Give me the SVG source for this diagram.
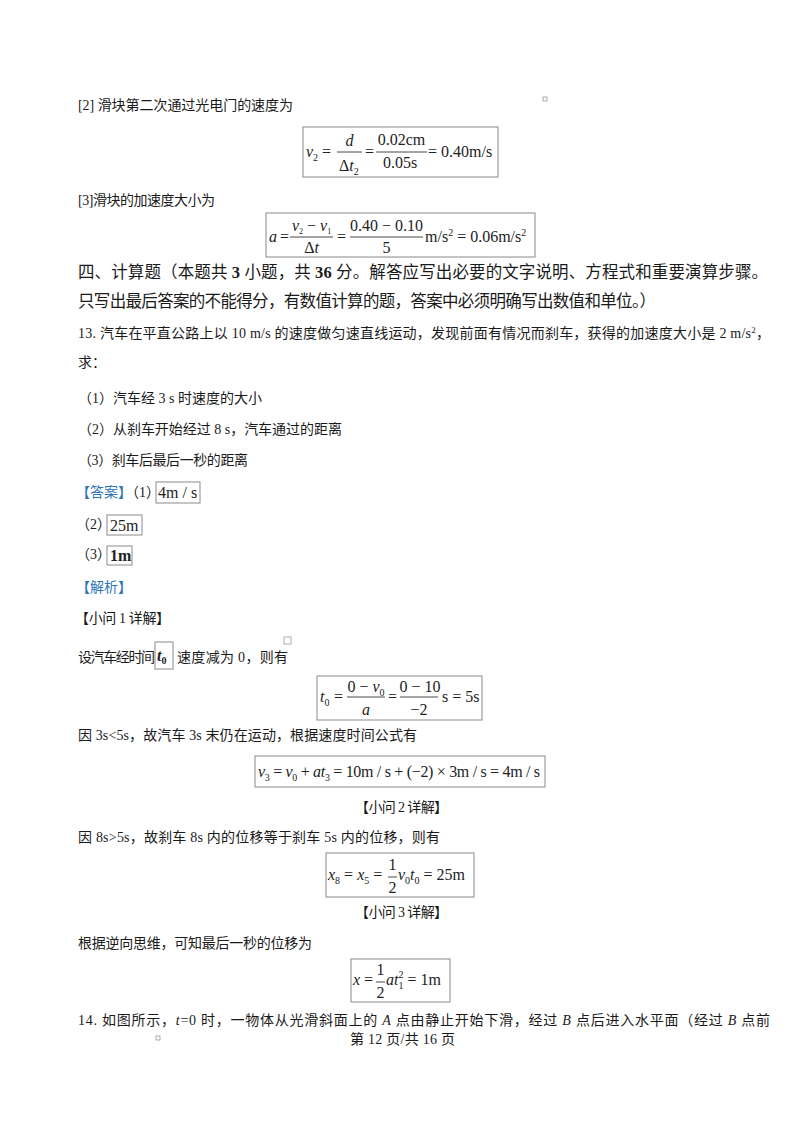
<svg xmlns="http://www.w3.org/2000/svg" width="800" height="1132" viewBox="0 0 800 1132">
<style>
.t{font-family:"Liberation Serif","Noto Sans CJK SC",serif;font-size:14px;fill:#1a1a1a}
.h{font-size:16.5px}
.m{font-family:"Liberation Serif",serif;font-size:16px;fill:#222}
.i{font-style:italic}
.b{font-weight:bold}
.s{font-size:10px}
.blue{fill:#2e74b5}
.box{fill:none;stroke:#8a8a8a;stroke-width:1}
.sq{fill:none;stroke:#9a9a9a;stroke-width:0.8}
.fl{stroke:#333;stroke-width:0.9}
</style>
<rect width="800" height="1132" fill="#fff"/>

<g id="part2">
<text class="t" x="78" y="110" textLength="215" lengthAdjust="spacing">[2]  滑块第二次通过光电门的速度为</text>
<rect class="sq" x="543" y="97" width="4" height="4"/>
<rect class="box" x="303" y="127" width="195" height="50"/>
<text class="m" x="306" y="157"><tspan class="i">v</tspan><tspan class="s" dy="4">2</tspan></text>
<text class="m" x="322" y="157">=</text>
<line class="fl" x1="337" y1="152" x2="362" y2="152"/>
<text class="m i" x="349.5" y="146" text-anchor="middle">d</text>
<text class="m" x="339" y="171">Δ<tspan class="i">t</tspan><tspan class="s" dy="4">2</tspan></text>
<text class="m" x="365" y="157">=</text>
<line class="fl" x1="376" y1="152" x2="427" y2="152"/>
<text class="m" x="401.5" y="145" text-anchor="middle">0.02cm</text>
<text class="m" x="400" y="168" text-anchor="middle">0.05s</text>
<text class="m" x="428" y="157">= 0.40m/s</text>
</g>

<g id="part3">
<text class="t" x="78" y="205" textLength="137" lengthAdjust="spacing">[3]滑块的加速度大小为</text>
<rect class="box" x="266" y="213" width="269" height="44"/>
<text class="m i" x="269" y="242">a</text>
<text class="m" x="280" y="242">=</text>
<line class="fl" x1="290" y1="237" x2="333" y2="237"/>
<text class="m" x="311.5" y="231" text-anchor="middle" font-size="13"><tspan class="i">v</tspan><tspan font-size="8" dy="3">2</tspan><tspan dy="-3"> − </tspan><tspan class="i">v</tspan><tspan font-size="8" dy="3">1</tspan></text>
<text class="m" x="311.5" y="253" text-anchor="middle">Δ<tspan class="i">t</tspan></text>
<text class="m" x="337" y="242">=</text>
<line class="fl" x1="350" y1="237" x2="423" y2="237"/>
<text class="m" x="386.5" y="231" text-anchor="middle">0.40 − 0.10</text>
<text class="m" x="386.5" y="253" text-anchor="middle">5</text>
<text class="m" x="425" y="242">m/s<tspan class="s" dy="-6">2</tspan><tspan dy="6"> = 0.06m/s</tspan><tspan class="s" dy="-6">2</tspan></text>
</g>

<g id="section4">
<text class="t h" x="78" y="278" textLength="690" lengthAdjust="spacing">四、计算题（本题共 <tspan class="b">3</tspan> 小题，共 <tspan class="b">36</tspan> 分。解答应写出必要的文字说明、方程式和重要演算步骤。</text>
<text class="t h" x="78" y="307" textLength="578" lengthAdjust="spacing">只写出最后答案的不能得分，有数值计算的题，答案中必须明确写出数值和单位。）</text>
</g>

<g id="q13">
<text class="t" x="78" y="338" textLength="692" lengthAdjust="spacing">13. 汽车在平直公路上以 10 m/s 的速度做匀速直线运动，发现前面有情况而刹车，获得的加速度大小是 2 m/s<tspan font-size="9" dy="-5">2</tspan><tspan dy="5">，</tspan></text>
<text class="t" x="78" y="367">求：</text>
<text class="t" x="78" y="403" textLength="184" lengthAdjust="spacing">（1）汽车经  3 s 时速度的大小</text>
<text class="t" x="78" y="434" textLength="264" lengthAdjust="spacing">（2）从刹车开始经过  8 s，汽车通过的距离</text>
<text class="t" x="78" y="465" textLength="170" lengthAdjust="spacing">（3）刹车后最后一秒的距离</text>
</g>

<g id="answer">
<text class="t" x="76" y="497" font-size="12"><tspan class="blue">【答案】</tspan>（1）</text>
<rect class="box" x="156" y="482" width="44" height="21"/>
<text class="m" x="158" y="498" font-size="15">4m / s</text>
<text class="t" x="76" y="529" font-size="12.5">（2）</text>
<rect class="box" x="107" y="515" width="35" height="20"/>
<text class="m" x="110" y="531">25m</text>
<text class="t" x="76" y="559" font-size="12.5">（3）</text>
<rect class="box" x="107" y="546" width="25" height="19"/>
<text class="m b" x="110" y="561">1m</text>
<text class="t blue" x="76" y="592" font-size="12.5">【解析】</text>
</g>

<g id="sub1">
<text class="t" x="75" y="623" textLength="95" lengthAdjust="spacing">【小问  1 详解】</text>
<text class="t" x="78" y="662" textLength="77" lengthAdjust="spacing">设汽车经时间</text>
<rect class="box" x="155" y="642" width="18" height="27"/>
<text class="m i b" x="157" y="661">t<tspan class="s" dy="3" font-style="normal">0</tspan></text>
<text class="t" x="177" y="662" textLength="111" lengthAdjust="spacing">速度减为  0，则有</text>
<rect class="sq" x="284" y="637" width="7" height="7"/>
<rect class="box" x="317" y="676" width="165" height="44"/>
<text class="m" x="320" y="702"><tspan class="i">t</tspan><tspan class="s" dy="4">0</tspan></text>
<text class="m" x="334" y="702">=</text>
<line class="fl" x1="347" y1="697" x2="385" y2="697"/>
<text class="m" x="366" y="692" text-anchor="middle">0 − <tspan class="i">v</tspan><tspan class="s" dy="4">0</tspan></text>
<text class="m i" x="366" y="715" text-anchor="middle">a</text>
<text class="m" x="388" y="702">=</text>
<line class="fl" x1="400" y1="697" x2="438" y2="697"/>
<text class="m" x="420" y="692" text-anchor="middle">0 − 10</text>
<text class="m" x="419" y="715" text-anchor="middle">−2</text>
<text class="m" x="442" y="702">s = 5s</text>
<text class="t" x="78" y="740" textLength="339" lengthAdjust="spacing">因  3s&lt;5s，故汽车  3s 末仍在运动，根据速度时间公式有</text>
<rect class="box" x="255" y="756" width="290" height="31"/>
<text class="m" x="258" y="777" textLength="282" lengthAdjust="spacing"><tspan class="i">v</tspan><tspan class="s" dy="4">3</tspan><tspan dy="-4"> = </tspan><tspan class="i">v</tspan><tspan class="s" dy="4">0</tspan><tspan dy="-4"> + </tspan><tspan class="i">at</tspan><tspan class="s" dy="4">3</tspan><tspan dy="-4"> = 10m / s + (−2) × 3m / s = 4m / s</tspan></text>
</g>

<g id="sub2">
<text class="t" x="355" y="812" textLength="93" lengthAdjust="spacing">【小问  2 详解】</text>
<text class="t" x="78" y="842" textLength="362" lengthAdjust="spacing">因  8s&gt;5s，故刹车  8s 内的位移等于刹车  5s 内的位移，则有</text>
<rect class="box" x="326" y="853" width="148" height="44"/>
<text class="m" x="328" y="880"><tspan class="i">x</tspan><tspan class="s" dy="4">8</tspan><tspan dy="-4"> = </tspan><tspan class="i">x</tspan><tspan class="s" dy="4">5</tspan><tspan dy="-4"> =</tspan></text>
<line class="fl" x1="388" y1="877" x2="397" y2="877"/>
<text class="m" x="392.5" y="870" text-anchor="middle">1</text>
<text class="m" x="392.5" y="893" text-anchor="middle">2</text>
<text class="m" x="398" y="880"><tspan class="i">v</tspan><tspan class="s" dy="4">0</tspan><tspan class="i" dy="-4">t</tspan><tspan class="s" dy="4">0</tspan><tspan dy="-4"> = 25m</tspan></text>
</g>

<g id="sub3">
<text class="t" x="355" y="917" textLength="93" lengthAdjust="spacing">【小问  3 详解】</text>
<text class="t" x="78" y="948" textLength="234" lengthAdjust="spacing">根据逆向思维，可知最后一秒的位移为</text>
<rect class="box" x="351" y="959" width="99" height="43"/>
<text class="m" x="353" y="985"><tspan class="i">x</tspan> =</text>
<line class="fl" x1="376" y1="982" x2="385" y2="982"/>
<text class="m" x="380.5" y="975" text-anchor="middle">1</text>
<text class="m" x="380.5" y="998" text-anchor="middle">2</text>
<text class="m" x="386" y="985"><tspan class="i">at</tspan><tspan class="s" dy="4">1</tspan><tspan class="s" dx="-5" dy="-11">2</tspan><tspan dy="7"> = 1m</tspan></text>
</g>

<g id="q14">
<text class="t" x="78" y="1025" textLength="692" lengthAdjust="spacing">14. 如图所示，<tspan class="i">t</tspan>=0 时，一物体从光滑斜面上的  <tspan class="i">A</tspan> 点由静止开始下滑，经过  <tspan class="i">B</tspan> 点后进入水平面（经过  <tspan class="i">B</tspan> 点前</text>
<rect class="sq" x="156" y="1036" width="4" height="4"/>
</g>

<g id="footer">
<text class="t" x="350" y="1044" textLength="105" lengthAdjust="spacing">第  12 页/共  16 页</text>
</g>
</svg>
